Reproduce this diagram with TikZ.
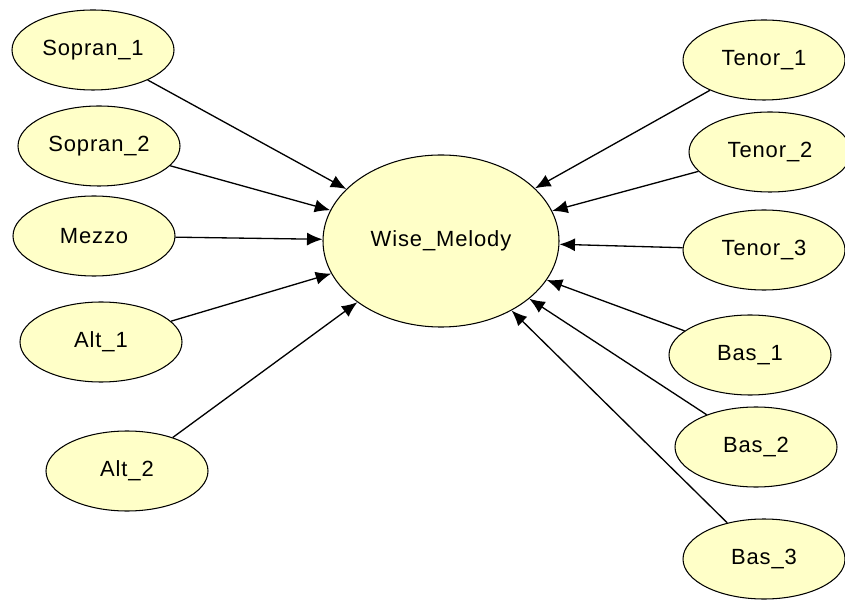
\documentclass[tikz,border=0pt]{standalone}
\usepackage{fontspec}
\setmainfont[LetterSpace=4]{Liberation Sans}
\usepackage{tikz}
\usetikzlibrary{shapes.geometric,arrows.meta}
\definecolor{nodefill}{RGB}{255,255,200}
\begin{document}
\begin{tikzpicture}[>={Latex[length=3.1mm,width=2.6mm]},
	voice/.style={ellipse,draw,line width=0.6pt,fill=nodefill,minimum width=3.24cm,minimum height=1.6cm,inner sep=0pt,font=\fontsize{12.5}{14}\selectfont},
	melody/.style={voice,minimum width=4.72cm,minimum height=3.44cm}]
				\useasboundingbox (0,0) rectangle (16.9,11.98);
				\node[voice] (s1) at (1.86, 10.98) {Sopran\_1};
				\node[voice] (s2) at (1.98, 9.06) {Sopran\_2};
				\node[voice] (mz) at (1.88, 7.26) {Mezzo};
				\node[voice] (a1) at (2.02, 5.14) {Alt\_1};
				\node[voice] (a2) at (2.54, 2.56) {Alt\_2};
				\node[melody] (wm) at (8.82, 7.16) {Wise\_Melody};
				\node[voice] (t1) at (15.28, 10.78) {Tenor\_1};
				\node[voice] (t2) at (15.4, 8.94) {Tenor\_2};
				\node[voice] (t3) at (15.28, 6.98) {Tenor\_3};
				\node[voice] (b1) at (15.0, 4.88) {Bas\_1};
				\node[voice] (b2) at (15.12, 3.04) {Bas\_2};
				\node[voice] (b3) at (15.28, 0.8) {Bas\_3};
				\foreach \v in {s1,s2,mz,a1,a2,t1,t2,t3,b1,b2,b3}
					\draw[->,line width=0.75pt] (\v) to (wm);
			\end{tikzpicture}
\end{document}
